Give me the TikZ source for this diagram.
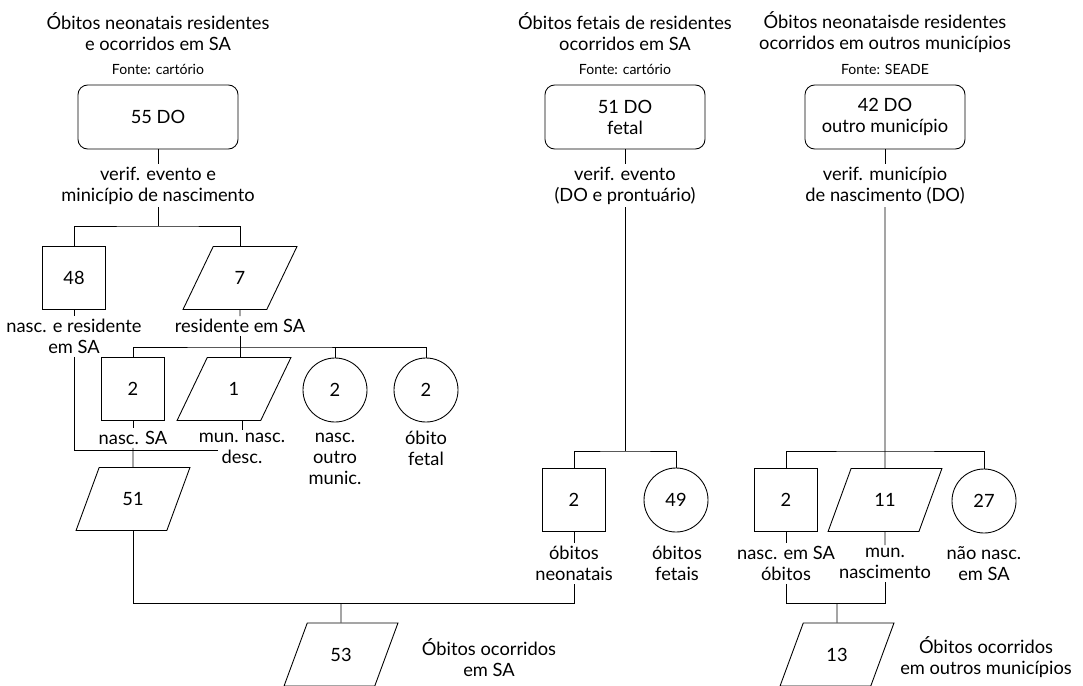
\documentclass[tikz,border=0pt]{standalone}
\usepackage{fontspec}
\setmainfont{Lato}
\usepackage{tikz}
\usetikzlibrary{shapes.geometric, positioning, calc}

\tikzset{
  txt/.style={font=\fontsize{10.4}{12}\selectfont, align=center, inner sep=1.5pt},
  src/.style={font=\fontsize{8}{10}\selectfont, inner sep=1pt},
  dobox/.style={txt, draw, rounded corners=5.5pt, minimum width=3.2cm, minimum height=1.28cm},
  sqbox/.style={txt, draw, minimum size=1.26cm},
  circbox/.style={txt, draw, circle, minimum size=1.28cm},
  parbox/.style={txt, draw, trapezium, trapezium left angle=64, trapezium right angle=116,
    trapezium stretches=true, minimum width=2.28cm, minimum height=1.26cm},
}

\begin{document}
\begin{tikzpicture}[x=0.2mm, y=-0.2mm, line width=0.5pt]
\useasboundingbox (0,0) rectangle (1083,685);
\clip (0,0) rectangle (1083,685);

% Obitos neonatais residentes em SA
\node[txt] (t1) at (158,32) {Óbitos neonatais residentes\\e ocorridos em SA};
\node[src] (f1) at (158,69) {Fonte: cartório};
\node[dobox] (b55) at (158,117) {55 DO};
\node[txt] (v1) at (158,185.5) {verif. evento e\\minicípio de nascimento};
\coordinate (j55) at (158,226);

\node[sqbox] (b48) at (74,278) {48};
\node[txt] (l48) at (74,336.5) {nasc. e residente\\em SA};
\node[parbox] (p7) at (240,278) {7};
\node[txt] (l7) at (240,326) {residente em SA};
\coordinate (j7) at (240,347);

\node[sqbox] (b2a) at (133,389) {2};
\node[txt] (l2a) at (133,438) {nasc. SA};
\node[parbox] (p1) at (234,389) {1};
\node[txt] (l1) at (242,448.5) {mun. nasc.\\desc.};
\coordinate (jdesc) at (218,450);
\node[circbox] (c2a) at (335,390) {2};
\node[txt] (lc2a) at (335,459) {nasc.\\outro\\munic.};
\node[circbox] (c2b) at (426,390) {2};
\node[txt] (lc2b) at (426,448.5) {óbito\\fetal};

\node[parbox] (p51) at (133,499) {51};

\draw (b55) -- (v1);
\draw (v1) -- (j55);
\draw (b48) |- (j55) -| (p7);
\draw (b48) -- (l48);
\draw (p7) -- (l7);
\draw (l7) -- (j7);
\draw (b2a) |- (j7) -| (c2b);
\draw (j7) -- (j7 |- p1.north);
\draw (c2a) -- (c2a |- j7);
\draw (b2a) -- (l2a);
\draw (l1.north |- p1.south) -- (l1);
\draw (l48) |- (jdesc);
\draw (l2a) -- (p51);

% Obitos fetais
\node[txt] (t2) at (625,32) {Óbitos fetais de residentes\\ocorridos em SA};
\node[src] (f2) at (625,69) {Fonte: cartório};
\node[dobox] (b51) at (625,117) {51 DO\\fetal};
\node[txt] (v2) at (625,185.5) {verif. evento\\(DO e prontuário)};
\coordinate (j51) at (625,451);

\node[sqbox] (b2b) at (574,499.5) {2};
\node[txt] (l2b) at (574,563.5) {óbitos\\neonatais};
\node[circbox] (c49) at (676,500) {49};
\node[txt] (l49) at (677,563.5) {óbitos\\fetais};

\draw (b51) -- (v2);
\draw (v2) -- (j51);
\draw (b2b) |- (j51) -| (c49);
\draw (b2b) -- (l2b);

% Obitos ocorridos em SA
\coordinate (j53) at (341,603);
\node[parbox] (p53) at (341,654.5) {53};
\node[txt] (l53) at (489,658) {Óbitos ocorridos\\em SA};
\draw (p51) |- (j53) -| (l2b);
\draw (j53) -- (p53);

% Obitos em outros municipios
\node[txt] (t3) at (885,32) {Óbitos neonataisde residentes\\ocorridos em outros municípios};
\node[src] (f3) at (885,69) {Fonte: SEADE};
\node[dobox] (b42) at (885,117) {42 DO\\outro município};
\node[txt] (v3) at (885,185.5) {verif. município\\de nascimento (DO)};
\coordinate (j42) at (885,451);

\node[sqbox] (b2c) at (786,500) {2};
\node[txt] (l2c) at (786,563.5) {nasc. em SA\\óbitos};
\node[parbox] (p11) at (885,500) {11};
\node[txt] (l11) at (885,563.5) {mun.\\nascimento};
\node[circbox] (c27) at (984,501) {27};
\node[txt] (l27) at (984,563.5) {não nasc.\\em SA};

\coordinate (j13) at (837,603);
\node[parbox] (p13) at (837,654.5) {13};
\node[txt] (l13) at (986,657) {Óbitos ocorridos\\em outros municípios};

\draw (b42) -- (v3);
\draw (v3) -- (p11);
\draw (b2c) |- (j42) -| (c27);
\draw (b2c) -- (l2c);
\draw (p11) -- (l11);
\draw (l2c) |- (j13) -| (l11);
\draw (j13) -- (p13);
\end{tikzpicture}
\end{document}
